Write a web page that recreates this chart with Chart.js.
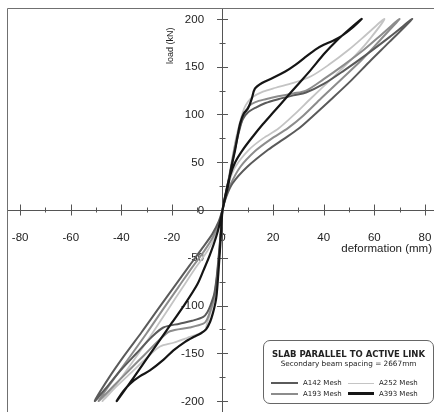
<!DOCTYPE html>
<html><head><meta charset="utf-8">
<script src="https://cdn.jsdelivr.net/npm/chart.js@4"></script>
<style>
html,body{margin:0;padding:0;background:#fff;}
#wrap{position:relative;width:434px;height:412px;overflow:hidden;background:#fff;}
#legend{position:absolute;left:263px;top:340px;width:171px;height:64px;border:1px solid #666;border-radius:7px;box-sizing:border-box;background:#fff;font-family:"DejaVu Sans",sans-serif;color:#222;}
#legend .t{position:absolute;left:0;width:100%;text-align:center;white-space:nowrap;transform:translateY(-50%);}
#legend .ln{position:absolute;height:0;}
#legend .lb{position:absolute;font-size:7px;white-space:nowrap;transform:translateY(-50%);}
</style></head>
<body>
<div id="wrap">
<canvas id="c" width="434" height="412"></canvas>
<div id="legend">
  <div class="t" style="top:13px;font-weight:bold;font-size:8.5px;">SLAB PARALLEL TO ACTIVE LINK</div>
  <div class="t" style="top:22px;font-size:7.3px;">Secondary beam spacing = 2667mm</div>
  <div class="ln" style="left:7px;width:27px;top:41px;border-top:2.5px solid #5a5a5a;"></div>
  <div class="lb" style="left:39px;top:42px;">A142 Mesh</div>
  <div class="ln" style="left:7px;width:27px;top:51.5px;border-top:2.5px solid #8c8c8c;"></div>
  <div class="lb" style="left:39px;top:52.5px;">A193 Mesh</div>
  <div class="ln" style="left:84px;width:26px;top:41.5px;border-top:1.5px solid #c4c4c4;"></div>
  <div class="lb" style="left:115px;top:42px;">A252 Mesh</div>
  <div class="ln" style="left:84px;width:26px;top:51px;border-top:3.5px solid #151515;"></div>
  <div class="lb" style="left:115px;top:52.5px;">A393 Mesh</div>
</div>
</div>
<script>
// ---- data: [deformation (mm), load (kN)] ----
const A393_posLoad   = [[0,0],[1,12],[2.4,28],[3.5,45],[5,63],[6,78],[7,91],[8.4,101],[10,106],[11.5,116],[12.8,127],[15.6,133],[19.6,138],[24.8,145],[28.8,152],[32.7,160],[36.7,168],[40,173],[43.5,177],[47,182],[51,190],[55,200]];
const A393_posUnload = [[0,0],[1.5,20],[3,36],[5,50],[8,63],[12,77],[16,90],[20,102],[25,117],[30,132],[35,147],[40,163],[45,177],[50,189],[55,200]];
const A393_negLoad   = [[0,0],[-0.5,-20],[-1.1,-45],[-1.7,-68],[-2.3,-88],[-2.8,-97],[-3.8,-108],[-4.9,-117],[-6.5,-125],[-8.5,-129],[-11.5,-133],[-14.8,-138],[-19.4,-147],[-23.4,-157],[-28.7,-168],[-32.6,-174],[-36.6,-182],[-39.3,-190],[-41.8,-200]];
const A393_negUnload = [[0,0],[-1,-13],[-2.5,-28],[-5,-47],[-7.5,-63],[-10,-78],[-15,-99],[-20,-118],[-25,-137],[-30,-156],[-35,-175],[-41.8,-200]];

const A252_posLoad   = [[0,0],[1,14],[2.5,34],[4,56],[5.5,77],[7,93],[8.5,106],[10,113],[11.7,118],[16,124],[21,128],[28,133],[35,140],[42,152],[50,168],[57,184],[64,200]];
const A252_posUnload = [[0,0],[1,14],[2.4,28],[5,45],[10.4,63],[16,75],[22,85],[28,99],[35,117],[43,137],[50,155],[57,175],[64,200]];
const A252_negLoad   = [[0,0],[-0.6,-20],[-1.3,-45],[-2.1,-70],[-3,-90],[-4.5,-105],[-6,-118],[-6.9,-126],[-8.9,-129],[-14,-134],[-19.4,-139],[-24.7,-143],[-30,-155],[-36,-170],[-42,-185],[-47.5,-200]];
const A252_negUnload = [[0,0],[-1.2,-14],[-3,-28],[-6,-43],[-10.5,-60],[-16,-82],[-21,-102],[-28,-130],[-35,-157],[-41,-179],[-47.5,-200]];

const A193_posLoad   = [[0,0],[1,14],[2.5,33],[4,54],[5.5,74],[7,88],[8.5,100],[10.5,109],[13,113],[17,116],[22,119],[28,122],[33,125],[40,137],[48,152],[56,168],[63,184],[70,200]];
const A193_posUnload = [[0,0],[1,12],[3,26],[7,45],[13,62],[19,74],[26,86],[32,99],[39,117],[47,137],[55,157],[62,177],[70,200]];
const A193_negLoad   = [[0,0],[-0.6,-20],[-1.3,-45],[-2.2,-70],[-3.2,-90],[-4.5,-103],[-6.2,-115],[-7.6,-119],[-13,-123],[-20.8,-127],[-25,-136],[-31,-152],[-37,-168],[-43,-184],[-49,-200]];
const A193_negUnload = [[0,0],[-1.3,-13],[-3.5,-27],[-7,-42],[-12,-60],[-17.5,-81],[-23,-102],[-30,-129],[-37,-155],[-43,-177],[-49,-200]];

const A142_posLoad   = [[0,0],[1,13],[2.5,32],[4,52],[5.5,71],[7,87],[8,95],[10,102],[13,107],[17,112],[22,116],[28,120],[33,123],[40,132],[48,146],[57,163],[66,181],[75,200]];
const A142_posUnload = [[0,0],[1.5,14],[4,28],[9.7,45],[18,63],[24,74],[30,85],[36,99],[43,116],[51,136],[58,155],[66,176],[75,200]];
const A142_negLoad   = [[0,0],[-0.6,-20],[-1.4,-45],[-2.3,-70],[-3.3,-88],[-4.8,-100],[-6,-107],[-7.6,-112],[-12,-116],[-17,-119],[-23.4,-123],[-28,-133],[-34,-150],[-40,-167],[-45,-183],[-50.5,-200]];
const A142_negUnload = [[0,0],[-1.5,-12],[-4,-25],[-8,-40],[-13,-58],[-19,-80],[-25,-102],[-32,-128],[-39,-153],[-45,-176],[-50.5,-200]];

const xTicks = [-80,-70,-60,-50,-40,-30,-20,-10,0,10,20,30,40,50,60,70,80];
const yTicks = [-200,-175,-150,-125,-100,-75,-50,-25,0,25,50,75,100,125,150,175,200];
const xLabelStep = 20, yLabelStep = 50;
const xTitle = 'deformation (mm)', yTitle = 'load (kN)';

function path(pl, pu, nl, nu){
  const pts = pl.concat(pu.slice(0,-1).reverse()).concat(nl.slice(1)).concat(nu.slice(0,-1).reverse());
  return pts.map(p => ({x:p[0], y:p[1]}));
}
function ds(label, data, color, w){
  return {label, data, borderColor: color, borderWidth: w, pointRadius: 0, showLine: true, fill: false, tension: 0.3};
}
const FONT = 'Liberation Sans, Arial, sans-serif';

const decor = {
  id: 'decor',
  beforeDatasetsDraw(chart){
    const {ctx, chartArea: a, scales: {x, y}} = chart;
    const x0 = x.getPixelForValue(0), y0 = y.getPixelForValue(0);
    ctx.save();
    ctx.strokeStyle = '#707070'; ctx.lineWidth = 1;
    ctx.beginPath();
    ctx.moveTo(a.left + 0.5, a.bottom); ctx.lineTo(a.left + 0.5, a.top + 0.5); ctx.lineTo(a.right, a.top + 0.5);
    ctx.stroke();
    ctx.strokeStyle = '#555';
    ctx.beginPath();
    x.ticks.forEach(t => {
      if (t.value === 0) return;
      const px = Math.round(x.getPixelForValue(t.value)) + 0.5;
      const len = t.value % xLabelStep === 0 ? 5.5 : 2.5;
      ctx.moveTo(px, y0 - len); ctx.lineTo(px, y0 + len);
    });
    y.ticks.forEach(t => {
      if (t.value === 0) return;
      const py = Math.round(y.getPixelForValue(t.value)) + 0.5;
      const len = t.value % yLabelStep === 0 ? 5.5 : 3;
      ctx.moveTo(x0 - len, py); ctx.lineTo(x0 + len, py);
    });
    ctx.stroke();
    ctx.fillStyle = '#222';
    ctx.font = '11.5px ' + FONT;
    // y tick labels, placed left of the axis
    ctx.textAlign = 'right'; ctx.textBaseline = 'middle';
    y.ticks.forEach(t => {
      if (t.value % yLabelStep !== 0) return;
      ctx.fillText(String(t.value), x0 - 18.5, y.getPixelForValue(t.value) + 0.5);
    });
    ctx.fillText(xTitle, a.right - 2, y0 + 39);
    ctx.translate(x0 - 52, y.getPixelForValue(172));
    ctx.rotate(-Math.PI / 2);
    ctx.font = '9px ' + FONT;
    ctx.textAlign = 'center';
    ctx.fillText(yTitle, 0, 0);
    ctx.restore();
  }
};

function noPad(scale){ scale.paddingLeft = 0; scale.paddingRight = 0; scale.paddingTop = 0; scale.paddingBottom = 0; }

new Chart(document.getElementById('c'), {
  type: 'scatter',
  data: { datasets: [
    ds('A393 Mesh', path(A393_posLoad, A393_posUnload, A393_negLoad, A393_negUnload), '#151515', 2.2),
    ds('A142 Mesh', path(A142_posLoad, A142_posUnload, A142_negLoad, A142_negUnload), '#5a5a5a', 2),
    ds('A193 Mesh', path(A193_posLoad, A193_posUnload, A193_negLoad, A193_negUnload), '#8c8c8c', 2),
    ds('A252 Mesh', path(A252_posLoad, A252_posUnload, A252_negLoad, A252_negUnload), '#c4c4c4', 1.8)
  ]},
  options: {
    responsive: false, animation: false, events: [],
    layout: { padding: { left: 7, top: 8, right: 0, bottom: 0 } },
    plugins: { legend: { display: false }, tooltip: { enabled: false } },
    scales: {
      x: {
        type: 'linear', min: -85.2, max: 83.6, position: { y: 0 },
        afterBuildTicks: s => { s.ticks = xTicks.map(v => ({ value: v })); },
        afterFit: noPad,
        grid: { display: false, drawTicks: false },
        border: { display: true, color: '#555', width: 1 },
        ticks: { padding: 21, autoSkip: false, maxRotation: 0, color: '#222', font: { family: FONT, size: 11.5 },
          callback: v => (v % xLabelStep === 0 ? String(v) : '') }
      },
      y: {
        type: 'linear', min: -211.5, max: 211.5, position: { x: 0 },
        afterBuildTicks: s => { s.ticks = yTicks.map(v => ({ value: v })); },
        afterFit: noPad,
        grid: { display: false, drawTicks: false },
        border: { display: true, color: '#555', width: 1 },
        ticks: { display: false }
      }
    }
  },
  plugins: [decor]
});
</script>
</body></html>
